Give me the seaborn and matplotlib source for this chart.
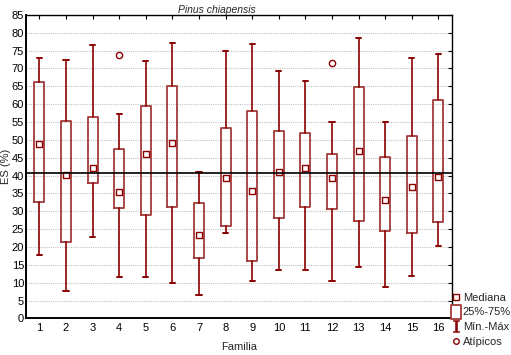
import numpy as np
import pandas as pd
import matplotlib
matplotlib.use("Agg")
import matplotlib.pyplot as plt
import seaborn as sns
from matplotlib.lines import Line2D
from matplotlib.path import Path

# Values (ES %), one per familia
familias = list(range(1, 17))
minimo = [17.7, 7.8, 22.7, 11.5, 11.7, 9.9, 6.7, 23.8, 10.5, 13.5, 13.7, 10.5, 14.5, 8.8, 11.8, 20.2]
q1 = [32.5, 21.5, 37.8, 31.0, 28.9, 31.1, 16.8, 25.9, 16.1, 28.2, 31.3, 30.6, 27.2, 24.4, 23.8, 26.9]
mediana = [48.8, 40.3, 42.0, 35.3, 46.0, 49.2, 23.5, 39.3, 35.6, 41.1, 42.0, 39.3, 46.9, 33.1, 36.9, 39.6]
q3 = [66.3, 55.3, 56.5, 47.5, 59.5, 65.0, 32.4, 53.2, 58.0, 52.6, 52.0, 46.1, 64.9, 45.1, 51.1, 61.3]
maximo = [72.8, 72.4, 76.5, 57.2, 72.2, 77.0, 40.9, 75.0, 76.8, 69.4, 66.5, 55.1, 78.4, 55.0, 72.9, 74.1]
atipicos = {4: [73.7], 12: [71.4]}
media_general = 40.6

df = pd.DataFrame({"familia": familias, "mediana": mediana})

sns.set_style("white")
plt.rcParams["font.family"] = ["Liberation Sans", "DejaVu Sans"]

box_col = "#a33a3a"
whisk_col = "#8b0000"

fig = plt.figure(figsize=(5.11, 3.55), dpi=100)
ax = fig.add_axes([0.051, 0.103, 0.833, 0.855])

stats = []
for i, f in enumerate(familias):
    stats.append({"whislo": minimo[i], "q1": q1[i], "med": mediana[i], "q3": q3[i],
                  "whishi": maximo[i], "fliers": atipicos.get(f, [])})

ax.bxp(stats, positions=familias, widths=0.38, capwidths=0.2, showfliers=True,
       boxprops=dict(color=box_col, linewidth=1.3),
       whiskerprops=dict(color=whisk_col, linewidth=1.2),
       capprops=dict(color=whisk_col, linewidth=1.4),
       medianprops=dict(linewidth=0),
       flierprops=dict(marker="o", markersize=4.5, markerfacecolor="white",
                       markeredgecolor=whisk_col, markeredgewidth=1.0))

sns.scatterplot(data=df, x="familia", y="mediana", marker="s", s=20, color="white",
                edgecolor=whisk_col, linewidth=1.0, ax=ax, zorder=5, legend=False)

ax.axhline(media_general, color="black", linewidth=1.2, zorder=6)

ax.set_xlim(0.5, 16.5)
ax.set_ylim(0, 85)
ax.set_xticks(familias)
ax.set_xticklabels([str(f) for f in familias])
ax.set_yticks(np.arange(0, 90, 5))
ax.yaxis.grid(True, color="#c4c4c4", linestyle=(0, (1, 1)), linewidth=0.8)
ax.set_axisbelow(True)
ax.tick_params(axis="both", direction="in", length=3, width=0.8, labelsize=8, colors="black",
               top=True, right=True, labelright=False, labeltop=False, pad=3)
ax.tick_params(axis="y", pad=1.5)
for s in ax.spines.values():
    s.set_color("black")
    s.set_linewidth(1.0)
ax.spines["left"].set_linewidth(1.4)
ax.spines["bottom"].set_linewidth(1.4)

ax.set_xlabel("Familia", fontsize=8, labelpad=7)
ax.set_ylabel("ES (%)", fontsize=8)
ax.yaxis.set_label_coords(-0.036, 0.5)
fig.text(0.425, 0.972, "Pinus chiapensis", fontsize=7.5, style="italic", ha="center", va="center")

# legend markers: tall box and a filled whisker (I) shape
rect = Path([(-0.35, -0.5), (0.35, -0.5), (0.35, 0.5), (-0.35, 0.5), (-0.35, -0.5)],
            [Path.MOVETO, Path.LINETO, Path.LINETO, Path.LINETO, Path.CLOSEPOLY])
t = 0.2
ibar_pts = [(-0.5, -1), (0.5, -1), (0.5, -1 + t), (t / 2, -1 + t), (t / 2, 1 - t), (0.5, 1 - t),
            (0.5, 1), (-0.5, 1), (-0.5, 1 - t), (-t / 2, 1 - t), (-t / 2, -1 + t), (-0.5, -1 + t),
            (-0.5, -1)]
ibar = Path(ibar_pts, [Path.MOVETO] + [Path.LINETO] * 11 + [Path.CLOSEPOLY])
handles = [
    Line2D([], [], marker="s", linestyle="none", markersize=4.5, markerfacecolor="white",
           markeredgecolor=whisk_col, markeredgewidth=1.0),
    Line2D([], [], marker=rect, linestyle="none", markersize=10, markerfacecolor="white",
           markeredgecolor=box_col, markeredgewidth=1.3),
    Line2D([], [], marker=ibar, linestyle="none", markersize=9, markerfacecolor=whisk_col,
           markeredgecolor=whisk_col, markeredgewidth=0.4),
    Line2D([], [], marker="o", linestyle="none", markersize=4, markerfacecolor="white",
           markeredgecolor=whisk_col, markeredgewidth=1.0),
]
labels = ["Mediana", "25%-75%", "Mín.-Máx", "Atípicos"]
fig.legend(handles, labels, loc="lower left", bbox_to_anchor=(0.882, 0.02), frameon=False,
           fontsize=8, handlelength=0.8, handletextpad=0.2, labelspacing=0.42,
           borderpad=0.1, borderaxespad=0.0)

fig.savefig("out.png", dpi=100)
